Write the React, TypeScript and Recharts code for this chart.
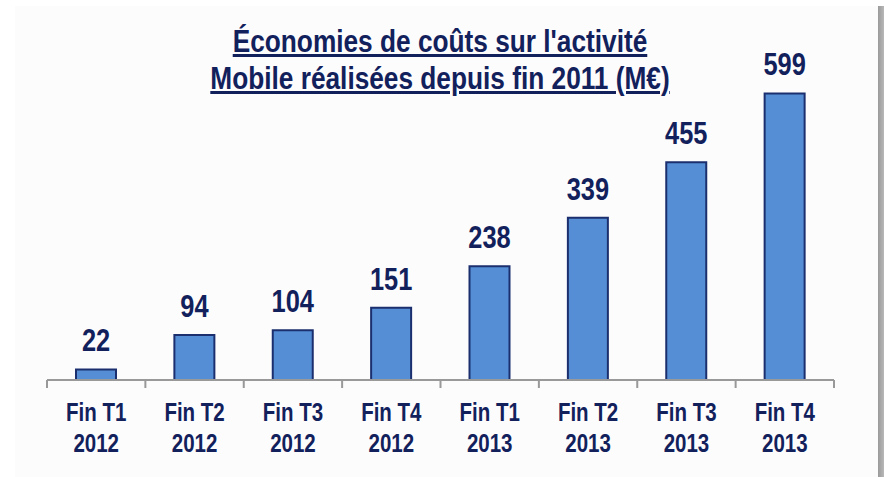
import React from "react";
import { BarChart, Bar, XAxis, YAxis, LabelList } from "recharts";

const periods = ["Fin T1", "Fin T2", "Fin T3", "Fin T4", "Fin T1", "Fin T2", "Fin T3", "Fin T4"];
const years = ["2012", "2012", "2012", "2012", "2013", "2013", "2013", "2013"];
const savings = [22, 94, 104, 151, 238, 339, 455, 599];
const titleLines = ["Économies de coûts sur l'activité", "Mobile réalisées depuis fin 2011 (M€)"];

const data = periods.map((p, i) => ({ key: `${p}|${years[i]}`, period: p, year: years[i], value: savings[i] }));

const NAVY = "#12215C";
const FONT = "'Liberation Sans', Arial, sans-serif";
const SX = 0.82;

const W = 884;
const H = 477;
const M = { top: 93, right: 50, bottom: 7, left: 47 };
const plotW = W - M.left - M.right;
const half = plotW / data.length / 2;

const NarrowText = ({ x, y, size, children }: any) => (
  <text
    transform={`translate(${x},${y}) scale(${SX},1)`}
    x={0}
    y={0}
    textAnchor="middle"
    fill={NAVY}
    fontFamily={FONT}
    fontWeight="bold"
    fontSize={size}
  >
    {children}
  </text>
);

const Tick = (props: any) => {
  const { x, payload, index } = props;
  const axisY = H - M.bottom - 90;
  const [p, yr] = String(payload.value).split("|");
  return (
    <g>
      <line x1={x - half} x2={x - half} y1={axisY} y2={axisY + 8} stroke="#999" strokeWidth={2} />
      {index === data.length - 1 && (
        <line x1={x + half} x2={x + half} y1={axisY} y2={axisY + 8} stroke="#999" strokeWidth={2} />
      )}
      <NarrowText x={x} y={axisY + 41} size={25}>{p}</NarrowText>
      <NarrowText x={x} y={axisY + 72} size={25}>{yr}</NarrowText>
    </g>
  );
};

const ValueLabel = (props: any) => {
  const { x, y, width, value } = props;
  return <NarrowText x={x + width / 2} y={y - 18} size={31}>{value}</NarrowText>;
};

export default function App() {
  return (
    <div style={{ position: "absolute", left: 0, top: 0, width: W, height: H, background: "#fff", overflow: "hidden" }}>
      <div style={{ position: "absolute", left: 15, top: 6, width: 863, height: 471, background: "#fcfcfc" }} />
      <div
        style={{
          position: "absolute",
          left: 878,
          top: 6,
          width: 6,
          height: 471,
          background: "linear-gradient(to right, #9a9a9a, #b8b8b8)",
        }}
      />
      {titleLines.map((t, i) => (
        <div
          key={i}
          style={{
            position: "absolute",
            left: 0,
            width: 880,
            top: 23 + i * 37,
            textAlign: "center",
            transform: `scaleX(${SX})`,
            transformOrigin: "440px 0",
            fontFamily: FONT,
            fontWeight: "bold",
            fontSize: 32,
            lineHeight: "36px",
            color: NAVY,
            textDecoration: "underline",
            textDecorationThickness: "3px",
            textUnderlineOffset: "2px",
            whiteSpace: "nowrap",
          }}
        >
          {t}
        </div>
      ))}
      <div style={{ position: "absolute", left: 0, top: 0 }}>
        <BarChart width={W} height={H} data={data} margin={M} barSize={40}>
          <YAxis hide domain={[0, 600]} />
          <XAxis
            dataKey="key"
            height={90}
            axisLine={{ stroke: "#999", strokeWidth: 2 }}
            tickLine={false}
            tick={<Tick />}
            interval={0}
          />
          <Bar dataKey="value" fill="#558ED5" stroke="#1B2F6E" strokeWidth={2} isAnimationActive={false}>
            <LabelList dataKey="value" content={<ValueLabel />} />
          </Bar>
        </BarChart>
      </div>
    </div>
  );
}
